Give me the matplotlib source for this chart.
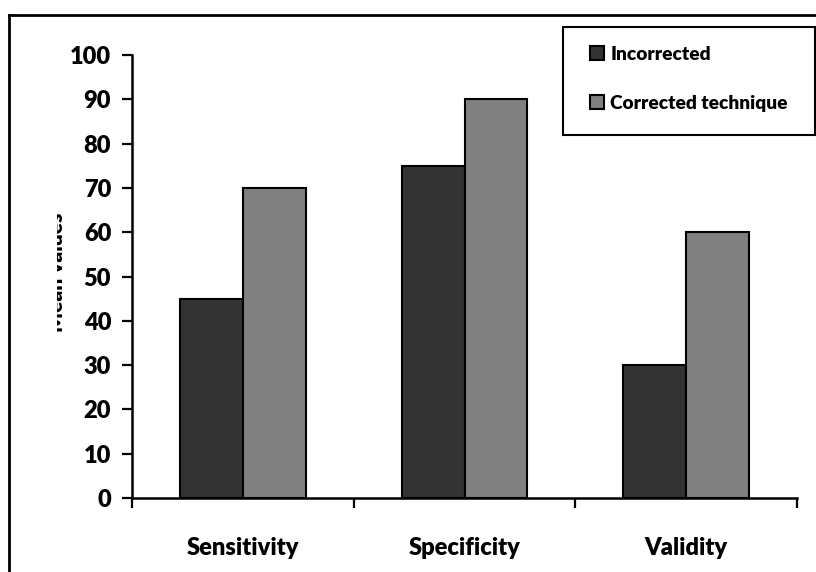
import matplotlib
matplotlib.use("Agg")
import matplotlib.pyplot as plt
from matplotlib.lines import Line2D
from matplotlib.patches import Rectangle
from matplotlib.transforms import Bbox
import numpy as np

categories = ["Sensitivity", "Specificity", "Validity"]
incorrected = [45, 75, 30]
corrected = [70, 90, 60]
series_names = ["Incorrected", "Corrected technique"]
y_ticks = [0, 10, 20, 30, 40, 50, 60, 70, 80, 90, 100]

plt.rcParams["font.family"] = ["Lato", "DejaVu Sans"]
plt.rcParams["font.weight"] = "bold"

W, H = 816, 572
fig = plt.figure(figsize=(W / 100, H / 100), dpi=100)
ax = fig.add_axes([132 / W, 1 - 498 / H, (797 - 132) / W, (498 - 55) / H])

x = np.arange(len(categories)) + 0.5
bw = 0.284
ax.bar(x - bw / 2, incorrected, bw, color="#333333", edgecolor="black", linewidth=1.5,
       label=series_names[0], zorder=2)
ax.bar(x + bw / 2, corrected, bw, color="#808080", edgecolor="black", linewidth=1.5,
       label=series_names[1], zorder=2)

ax.set_xlim(0, len(categories))
ax.set_ylim(0, 100)
ax.set_yticks(y_ticks)
ax.set_yticklabels([str(v) for v in y_ticks], fontsize=17, fontweight="heavy")
ax.set_xticks(np.arange(len(categories) + 1))
ax.set_xticklabels([])
for xi, name in zip(x, categories):
    ax.text(xi, -11.2, name, ha="center", va="center", fontsize=17, fontweight="heavy",
            transform=ax.transData, clip_on=False)
ax.tick_params(axis="y", direction="out", length=7, width=1.6, pad=8)
ax.tick_params(axis="x", direction="out", length=7, width=1.6)
for s in ("top", "right"):
    ax.spines[s].set_visible(False)
for s in ("left", "bottom"):
    ax.spines[s].set_linewidth(1.8)

# y label, partly cut off as in the original
yl = fig.text(66 / W, 1 - 272 / H, "Mean values", rotation=90, ha="right", va="center",
              fontsize=15, fontweight="heavy")
yl.set_clip_box(Bbox.from_extents(57, 0, W, H))
yl.set_clip_on(True)

# legend box drawn separately so the entries can sit inset like the original
fig.add_artist(Rectangle((563 / W, 1 - 135 / H), (815 - 563) / W, (135 - 27) / H,
                         transform=fig.transFigure, fill=True, facecolor="white",
                         edgecolor="black", lw=1.5))
leg = fig.legend(loc="upper left", bbox_to_anchor=(590 / W, 1 - 46 / H),
                 frameon=False, prop={"size": 13.8, "weight": "heavy"},
                 handlelength=0.75, handleheight=0.75, handletextpad=0.3,
                 labelspacing=1.65, borderpad=0, borderaxespad=0)

# outer border (only top and left visible)
fig.add_artist(Line2D([9 / W, 9 / W], [0, 1 - 15 / H], color="black", lw=2, transform=fig.transFigure))
fig.add_artist(Line2D([9 / W, 1], [1 - 15 / H, 1 - 15 / H], color="black", lw=2, transform=fig.transFigure))

fig.savefig("out.png", dpi=100)
